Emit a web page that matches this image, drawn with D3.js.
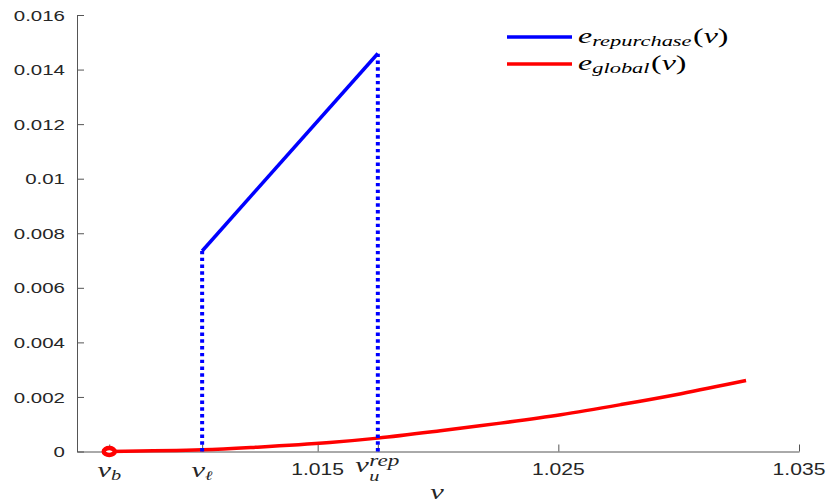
<!DOCTYPE html>
<html><head><meta charset="utf-8">
<script src="https://cdn.jsdelivr.net/npm/d3@7"></script>
<style>body{margin:0;background:#fff}svg{display:block}</style>
</head><body><div id="chart"></div>
<script>
// ---- data ----
const vB = 1.00634, vL = 1.0102, vU = 1.0175;
const xTickValues = [vB, vL, 1.015, vU, 1.025, 1.035];
const xTickLabels = ["v_b", "v_l", "1.015", "v_u^rep", "1.025", "1.035"];
const yTickValues = [0, 0.002, 0.004, 0.006, 0.008, 0.01, 0.012, 0.014, 0.016];
const yTickLabels = ["0", "0.002", "0.004", "0.006", "0.008", "0.01", "0.012", "0.014", "0.016"];
const repurchaseV = [vL, vU];
const repurchaseE = [0.00735, 0.01459];
const globalV = [1.00634, 1.0102, 1.0125, 1.0155, 1.0175, 1.0201, 1.0226, 1.0251, 1.0276, 1.0301, 1.0328];
const globalE = [0, 0.00006, 0.00016, 0.00033, 0.00049, 0.00076, 0.00104, 0.00135, 0.00172, 0.00212, 0.0026];

const W = 829, H = 504;
const margin = {left: 77, right: 30, top: 15, bottom: 52.5};
const svg = d3.select("#chart").append("svg").attr("width", W).attr("height", H);
const x = d3.scaleLinear().domain([1.005, 1.035]).range([margin.left, W - margin.right]);
const y = d3.scaleLinear().domain([0, 0.016]).range([H - margin.bottom, margin.top]);

const axisColor = "#555";
const textColor = "#262626";
const numScale = 1.32;
const mathFont = "Liberation Serif, Times New Roman, serif";
const mathScale = 1.45;

// axes
const gx = svg.append("g").attr("transform", `translate(0,${y(0)})`)
  .call(d3.axisBottom(x).tickValues(xTickValues).tickSize(-7).tickFormat("").tickSizeOuter(0));
const gy = svg.append("g").attr("transform", `translate(${x(1.005)},0)`)
  .call(d3.axisLeft(y).tickValues(yTickValues).tickSize(-7).tickFormat("").tickSizeOuter(0));
[gx, gy].forEach(g => { g.selectAll("line,path").attr("stroke", axisColor).attr("stroke-width", 1); });

// helper for stretched text
function stretched(px, py, sc, anchor) {
  return svg.append("g").attr("transform", `translate(${px},${py}) scale(${sc},1)`)
    .append("text").attr("text-anchor", anchor).attr("fill", textColor);
}

// y tick labels
yTickValues.forEach((v, i) => {
  stretched(x(1.005) - 12, y(v), numScale, "end").attr("dy", "0.36em")
    .attr("font-family", "Liberation Sans, Arial, sans-serif").attr("font-size", 15.5)
    .text(yTickLabels[i]);
});

// x tick labels
xTickValues.forEach((v, i) => {
  const lab = xTickLabels[i];
  const px = x(v);
  if (!lab.startsWith("v")) {
    stretched(px, 475, numScale, "middle")
      .attr("font-family", "Liberation Sans, Arial, sans-serif").attr("font-size", 16).text(lab);
  } else if (lab === "v_u^rep") {
    stretched(px - 22.5, 472, mathScale, "start").attr("font-family", mathFont)
      .attr("font-style", "italic").attr("font-size", 21).text("v");
    stretched(px - 8.5, 481, mathScale, "start").attr("font-family", mathFont)
      .attr("font-style", "italic").attr("font-size", 14).text("u");
    stretched(px - 8.5, 465.5, mathScale, "start").attr("font-family", mathFont)
      .attr("font-style", "italic").attr("font-size", 16).text("rep");
  } else {
    const t = stretched(px, 477, mathScale, "middle").attr("font-family", mathFont)
      .attr("font-style", "italic").attr("font-size", 21);
    t.append("tspan").text("v");
    if (lab === "v_b") t.append("tspan").attr("font-size", 14).attr("dy", 3).text("b");
    else t.append("tspan").attr("font-size", 13).attr("dy", 3).attr("font-family", "DejaVu Serif").text("\u2113");
  }
});

// x axis label
stretched(437, 499, mathScale, "middle").attr("font-family", mathFont)
  .attr("font-style", "italic").attr("font-size", 21).text("v");

// red global curve
const gData = globalV.map((v, i) => [v, globalE[i]]);
svg.append("path").datum(gData)
  .attr("d", d3.line().x(d => x(d[0])).y(d => y(d[1])).curve(d3.curveCatmullRom))
  .attr("fill", "none").attr("stroke", "#ff0000").attr("stroke-width", 3.5);

// blue repurchase line
const rData = repurchaseV.map((v, i) => [v, repurchaseE[i]]);
svg.append("path").datum(rData)
  .attr("d", d3.line().x(d => x(d[0])).y(d => y(d[1])))
  .attr("fill", "none").attr("stroke", "#0000ff").attr("stroke-width", 3.5);

// dotted verticals
rData.forEach(d => {
  svg.append("line").attr("x1", x(d[0])).attr("x2", x(d[0]))
    .attr("y1", y(0)).attr("y2", y(d[1]))
    .attr("stroke", "#0000ff").attr("stroke-width", 4).attr("stroke-dasharray", "3.4,3.4");
});

// red marker at v_b
svg.append("ellipse").attr("cx", x(vB)).attr("cy", y(0)).attr("rx", 5.5).attr("ry", 3.5)
  .attr("fill", "#fff").attr("stroke", "#ff0000").attr("stroke-width", 4.5);

// legend
const legendNames = ["repurchase", "global"];
const legendColors = ["#0000ff", "#ff0000"];
const legendY = [37, 64];
legendNames.forEach((name, i) => {
  const ly = legendY[i];
  svg.append("line").attr("x1", 507).attr("x2", 572).attr("y1", ly).attr("y2", ly)
    .attr("stroke", legendColors[i]).attr("stroke-width", 3.5);
  const t = stretched(578, ly + 5.5, mathScale, "start").attr("font-family", mathFont)
    .attr("font-size", 22).attr("fill", "#000");
  t.append("tspan").attr("font-style", "italic").text("e");
  t.append("tspan").attr("font-style", "italic").attr("font-size", 15.5).attr("dy", 3).text(name);
  t.append("tspan").attr("dy", -3).attr("dx", 1).text("(");
  t.append("tspan").attr("font-style", "italic").text("v");
  t.append("tspan").text(")");
});
</script></body></html>
